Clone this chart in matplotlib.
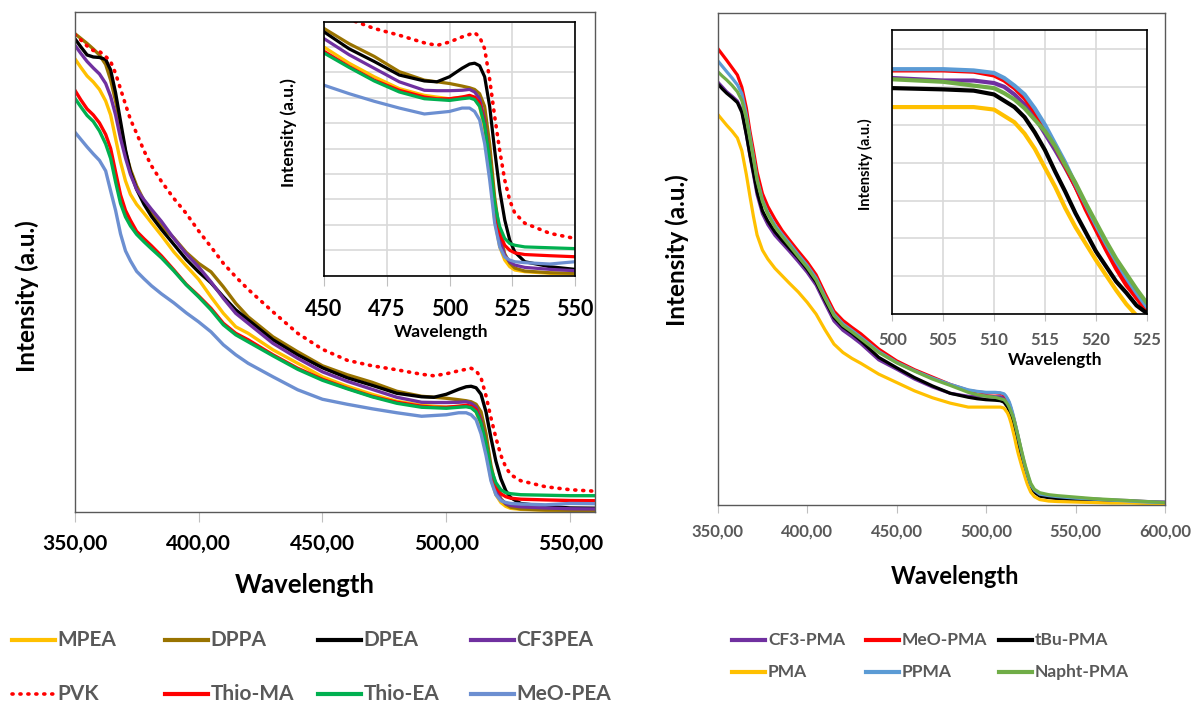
import matplotlib
matplotlib.use("Agg")
import numpy as np
import matplotlib.pyplot as plt
from matplotlib.lines import Line2D
from matplotlib.ticker import FuncFormatter

plt.rcParams['font.family'] = ['Lato', 'DejaVu Sans']
plt.rcParams['font.weight'] = 'bold'

# ---- left panel: PEA-type spacers (intensity, a.u.) ----
wl_left = [350, 352.5, 355, 357.5, 360, 362.5, 364.5, 366.5, 368.5, 370.5,
           372.5, 375, 378, 381, 385, 390, 395, 400, 405, 410,
           415, 420, 430, 440, 450, 460, 470, 480, 490, 495,
           500, 505, 508, 510, 512, 514, 516, 518, 520, 522,
           524, 526, 530, 540, 550, 560]

mpea = [0.907, 0.889, 0.872, 0.860, 0.845, 0.822, 0.794, 0.747, 0.700, 0.662,
        0.635, 0.615, 0.597, 0.578, 0.553, 0.520, 0.492, 0.465, 0.430, 0.397,
        0.370, 0.357, 0.324, 0.297, 0.270, 0.251, 0.235, 0.221, 0.213, 0.211,
        0.209, 0.211, 0.212, 0.209, 0.200, 0.172, 0.125, 0.066, 0.034, 0.0185,
        0.0106, 0.0067, 0.0047, 0.0028, 0.002, 0.002]
dppa = [0.957, 0.947, 0.937, 0.926, 0.914, 0.895, 0.864, 0.822, 0.770, 0.720,
        0.685, 0.652, 0.622, 0.597, 0.572, 0.548, 0.519, 0.497, 0.480, 0.450,
        0.417, 0.390, 0.350, 0.320, 0.292, 0.274, 0.259, 0.241, 0.231, 0.229,
        0.227, 0.224, 0.222, 0.220, 0.215, 0.200, 0.156, 0.093, 0.050, 0.026,
        0.015, 0.009, 0.0055, 0.0035, 0.0028, 0.0025]
dpea = [0.947, 0.930, 0.914, 0.910, 0.909, 0.905, 0.884, 0.838, 0.781, 0.724,
        0.680, 0.645, 0.615, 0.591, 0.565, 0.535, 0.505, 0.480, 0.458, 0.430,
        0.404, 0.384, 0.344, 0.314, 0.288, 0.268, 0.253, 0.237, 0.230, 0.229,
        0.235, 0.245, 0.250, 0.251, 0.248, 0.235, 0.200, 0.148, 0.101, 0.066,
        0.042, 0.028, 0.0165, 0.0106, 0.0075, 0.007]
cf3pea = [0.934, 0.917, 0.901, 0.888, 0.876, 0.857, 0.831, 0.794, 0.747, 0.708,
          0.675, 0.645, 0.624, 0.605, 0.581, 0.547, 0.516, 0.490, 0.460, 0.427,
          0.397, 0.377, 0.337, 0.307, 0.280, 0.261, 0.245, 0.229, 0.219, 0.2185,
          0.2185, 0.219, 0.220, 0.217, 0.209, 0.184, 0.137, 0.078, 0.042, 0.024,
          0.0165, 0.0126, 0.0098, 0.0075, 0.0059, 0.0055]
pvk = [0.955, 0.944, 0.932, 0.923, 0.921, 0.911, 0.901, 0.877, 0.846, 0.815,
       0.785, 0.757, 0.722, 0.692, 0.661, 0.627, 0.597, 0.562, 0.530, 0.497,
       0.470, 0.445, 0.400, 0.357, 0.325, 0.303, 0.292, 0.284, 0.275, 0.272,
       0.276, 0.282, 0.285, 0.287, 0.282, 0.268, 0.232, 0.188, 0.148, 0.113,
       0.089, 0.074, 0.062, 0.050, 0.044, 0.041]
thio_ma = [0.844, 0.824, 0.806, 0.794, 0.778, 0.755, 0.727, 0.680, 0.634, 0.603,
           0.583, 0.561, 0.546, 0.532, 0.512, 0.484, 0.455, 0.432, 0.407, 0.377,
           0.357, 0.344, 0.314, 0.287, 0.265, 0.247, 0.231, 0.219, 0.211, 0.209,
           0.209, 0.211, 0.213, 0.211, 0.204, 0.180, 0.137, 0.081, 0.050, 0.036,
           0.030, 0.027, 0.025, 0.0236, 0.0224, 0.022]
thio_ea = [0.828, 0.810, 0.793, 0.781, 0.762, 0.736, 0.707, 0.660, 0.617, 0.590,
           0.572, 0.555, 0.540, 0.526, 0.508, 0.482, 0.454, 0.430, 0.404, 0.374,
           0.354, 0.340, 0.312, 0.285, 0.263, 0.246, 0.230, 0.217, 0.209, 0.208,
           0.207, 0.209, 0.210, 0.208, 0.200, 0.178, 0.137, 0.085, 0.058, 0.044,
           0.038, 0.036, 0.034, 0.033, 0.032, 0.032]
meo_pea = [0.760, 0.745, 0.730, 0.716, 0.703, 0.682, 0.642, 0.603, 0.556, 0.522,
           0.502, 0.481, 0.466, 0.452, 0.436, 0.418, 0.398, 0.380, 0.360, 0.334,
           0.314, 0.297, 0.270, 0.244, 0.225, 0.215, 0.206, 0.198, 0.191, 0.1925,
           0.194, 0.198, 0.198, 0.194, 0.184, 0.156, 0.113, 0.062, 0.034, 0.022,
           0.0185, 0.0165, 0.0154, 0.0138, 0.0165, 0.016]

# ---- right panel: PMA-type spacers ----
wl_right = [350, 352.5, 355, 358, 361, 363.5, 366, 368, 370, 372,
            375, 378, 382, 386, 390, 395, 400, 405, 410, 415,
            420, 425, 430, 440, 450, 460, 470, 480, 490, 495,
            500, 505, 508, 510, 511, 512, 513, 514, 515, 516,
            517, 518, 519, 520, 521, 522, 523, 524, 525, 527,
            530, 535, 540, 550, 560, 570, 580, 590, 600]

cf3_pma = [0.860, 0.850, 0.840, 0.831, 0.821, 0.802, 0.753, 0.710, 0.671, 0.631,
           0.592, 0.570, 0.548, 0.532, 0.516, 0.495, 0.473, 0.447, 0.410, 0.374,
           0.355, 0.342, 0.328, 0.295, 0.276, 0.256, 0.240, 0.227, 0.221, 0.221,
           0.222, 0.220, 0.220, 0.218, 0.215, 0.209, 0.201, 0.191, 0.178, 0.165,
           0.151, 0.136, 0.120, 0.103, 0.087, 0.073, 0.060, 0.048, 0.040, 0.030,
           0.023, 0.019, 0.017, 0.014, 0.012, 0.010, 0.009, 0.007, 0.006]
meo_pma = [0.928, 0.916, 0.904, 0.889, 0.874, 0.849, 0.807, 0.760, 0.720, 0.677,
           0.633, 0.607, 0.581, 0.558, 0.539, 0.516, 0.494, 0.468, 0.430, 0.394,
           0.375, 0.361, 0.348, 0.317, 0.293, 0.275, 0.260, 0.245, 0.233, 0.230,
           0.228, 0.228, 0.227, 0.224, 0.220, 0.214, 0.206, 0.195, 0.182, 0.168,
           0.152, 0.136, 0.118, 0.102, 0.086, 0.071, 0.058, 0.048, 0.037, 0.027,
           0.020, 0.016, 0.014, 0.011, 0.009, 0.008, 0.006, 0.005, 0.004]
tbu_pma = [0.856, 0.846, 0.837, 0.828, 0.818, 0.798, 0.753, 0.712, 0.675, 0.637,
           0.598, 0.577, 0.555, 0.538, 0.522, 0.502, 0.479, 0.453, 0.416, 0.381,
           0.362, 0.349, 0.334, 0.300, 0.279, 0.259, 0.242, 0.227, 0.219, 0.216,
           0.214, 0.213, 0.212, 0.209, 0.204, 0.199, 0.191, 0.179, 0.165, 0.148,
           0.132, 0.115, 0.100, 0.085, 0.073, 0.061, 0.052, 0.042, 0.036, 0.026,
           0.018, 0.015, 0.013, 0.011, 0.009, 0.008, 0.006, 0.005, 0.004]
pma = [0.794, 0.783, 0.772, 0.760, 0.746, 0.720, 0.672, 0.628, 0.586, 0.549,
       0.518, 0.500, 0.481, 0.466, 0.451, 0.433, 0.412, 0.388, 0.356, 0.327,
       0.310, 0.298, 0.288, 0.266, 0.249, 0.232, 0.218, 0.207, 0.199, 0.199,
       0.199, 0.199, 0.199, 0.197, 0.192, 0.187, 0.178, 0.166, 0.151, 0.136,
       0.119, 0.104, 0.091, 0.078, 0.066, 0.054, 0.043, 0.034, 0.026, 0.017,
       0.011, 0.008, 0.007, 0.006, 0.005, 0.004, 0.004, 0.003, 0.003]
ppma = [0.903, 0.892, 0.881, 0.868, 0.854, 0.836, 0.793, 0.750, 0.707, 0.663,
        0.620, 0.594, 0.569, 0.550, 0.532, 0.509, 0.487, 0.461, 0.423, 0.388,
        0.368, 0.355, 0.341, 0.312, 0.290, 0.273, 0.258, 0.245, 0.234, 0.231,
        0.229, 0.229, 0.228, 0.226, 0.222, 0.216, 0.209, 0.198, 0.185, 0.170,
        0.155, 0.138, 0.122, 0.106, 0.091, 0.077, 0.064, 0.052, 0.041, 0.030,
        0.022, 0.019, 0.017, 0.014, 0.012, 0.010, 0.008, 0.006, 0.005]
napht_pma = [0.881, 0.872, 0.864, 0.853, 0.840, 0.822, 0.786, 0.745, 0.704, 0.660,
             0.617, 0.591, 0.565, 0.546, 0.528, 0.505, 0.483, 0.457, 0.420, 0.385,
             0.365, 0.352, 0.338, 0.310, 0.289, 0.272, 0.256, 0.243, 0.229, 0.224,
             0.221, 0.219, 0.216, 0.214, 0.210, 0.205, 0.198, 0.189, 0.180, 0.168,
             0.153, 0.139, 0.123, 0.108, 0.093, 0.079, 0.067, 0.055, 0.044, 0.032,
             0.025, 0.021, 0.019, 0.016, 0.013, 0.011, 0.009, 0.007, 0.005]

left_series = [
    ("MPEA", mpea, dict(color="#FFC000")),
    ("DPPA", dppa, dict(color="#997300")),
    ("DPEA", dpea, dict(color="black")),
    ("CF3PEA", cf3pea, dict(color="#7030A0")),
    ("PVK", pvk, dict(color="#FF0000", linestyle=(0, (0.3, 1.9)), dash_capstyle="round")),
    ("Thio-MA", thio_ma, dict(color="#FF0000")),
    ("Thio-EA", thio_ea, dict(color="#00B050")),
    ("MeO-PEA", meo_pea, dict(color="#6C8FD1")),
]
right_series = [
    ("CF3-PMA", cf3_pma, dict(color="#7030A0")),
    ("MeO-PMA", meo_pma, dict(color="#FF0000")),
    ("tBu-PMA", tbu_pma, dict(color="black")),
    ("PMA", pma, dict(color="#FFC000")),
    ("PPMA", ppma, dict(color="#5B9BD5")),
    ("Napht-PMA", napht_pma, dict(color="#70AD47")),
]

W, H = 1199, 704
fig = plt.figure(figsize=(W / 100, H / 100), dpi=100)


def px_axes(l, t, r, b):
    return fig.add_axes([l / W, 1 - b / H, (r - l) / W, (b - t) / H])


def fig_text(x, y, s, **kw):
    fig.text(x / W, 1 - y / H, s, ha="center", va="center", **kw)


comma_fmt = FuncFormatter(lambda v, p: f"{v:.2f}".replace(".", ","))
int_fmt = FuncFormatter(lambda v, p: f"{v:.0f}")


def main_frame(ax, color):
    for sp in ax.spines.values():
        sp.set_color(color)
        sp.set_linewidth(1.0)
    ax.set_yticks([])


def inset_frame(ax):
    for sp in ax.spines.values():
        sp.set_color("black")
        sp.set_linewidth(1.2)
    ax.grid(True, color="#d9d9d9", lw=1.2)
    ax.set_axisbelow(True)
    ax.tick_params(axis="y", length=0, labelleft=False)


# left main plot
ax1 = px_axes(74.7, 12, 595, 511.7)
for name, vals, st in left_series:
    ax1.plot(wl_left, vals, lw=2.4 if name != "PVK" else 2.6, **st)
ax1.set_xlim(350, 560)
ax1.set_ylim(0, 1)
ax1.set_xticks(np.arange(350, 551, 50))
ax1.xaxis.set_major_formatter(comma_fmt)
main_frame(ax1, "#595959")
ax1.tick_params(axis="x", direction="out", length=7, color="#bfbfbf",
                pad=9, labelsize=15, labelcolor="black")
fig_text(305, 585, "Wavelength", fontsize=18.5)
fig_text(27, 296, "Intensity (a.u.)", fontsize=17.5, rotation=90)

# left inset
ax2 = px_axes(324, 21.7, 575, 275.7)
for name, vals, st in left_series:
    ax2.plot(wl_left, vals, lw=2.3 if name != "PVK" else 2.6, **st)
ax2.set_xlim(450, 550)
ax2.set_ylim(0, 0.30)
ax2.set_xticks(np.arange(450, 551, 25))
ax2.set_yticks(np.arange(0, 0.301, 0.03))
ax2.xaxis.set_major_formatter(int_fmt)
inset_frame(ax2)
ax2.tick_params(axis="x", direction="out", length=7, color="#bfbfbf",
                pad=10, labelsize=15.5, labelcolor="black")
fig_text(441.5, 332, "Wavelength", fontsize=12.5)
fig_text(288.3, 133, "Intensity (a.u.)", fontsize=12.5, rotation=90)

# right main plot
ax3 = px_axes(717.7, 13, 1165, 505)
for name, vals, st in right_series:
    ax3.plot(wl_right, vals, lw=2.3, **st)
ax3.set_xlim(350, 600)
ax3.set_ylim(0, 1)
ax3.set_xticks(np.arange(350, 601, 50))
ax3.xaxis.set_major_formatter(comma_fmt)
main_frame(ax3, "#595959")
ax3.tick_params(axis="x", direction="out", length=6, color="#bfbfbf",
                pad=7, labelsize=12, labelcolor="#595959")
fig_text(955, 577, "Wavelength", fontsize=17)
fig_text(677, 250, "Intensity (a.u.)", fontsize=17.5, rotation=90)

# right inset
ax4 = px_axes(892.3, 30, 1146.7, 314.3)
for name, vals, st in right_series:
    ax4.plot(wl_right, vals, lw=3.0, **st)
ax4.set_xlim(500, 525)
ax4.set_ylim(0.035, 0.26)
ax4.set_xticks(np.arange(500, 526, 5))
ax4.set_yticks(0.035 + 0.03 * np.arange(8))
ax4.xaxis.set_major_formatter(int_fmt)
inset_frame(ax4)
ax4.tick_params(axis="x", direction="out", length=5, color="#bfbfbf",
                pad=8, labelsize=12, labelcolor="#595959")
fig_text(1055, 360, "Wavelength", fontsize=12.5)
fig_text(865, 164, "Intensity (a.u.)", fontsize=10.5, rotation=90)


# legends below each panel
def legend_entry(x0, y, length, label, st, lw, size):
    fig.add_artist(Line2D([x0 / W, (x0 + length) / W], [1 - y / H, 1 - y / H],
                          transform=fig.transFigure, lw=lw, **st))
    fig.text((x0 + length + 3) / W, 1 - y / H, label, ha="left", va="center",
             color="#595959", fontsize=size)


for i, (name, vals, st) in enumerate(left_series):
    col, row = i % 4, i // 4
    legend_entry(11.7 + col * 153, 640 + row * 54, 43, name, st,
                 2.6 if name == "PVK" else 3.0, 15)

for i, (name, vals, st) in enumerate(right_series):
    col, row = i % 3, i // 3
    legend_entry(732 + col * 133.5, 640 + row * 32, 33, name, st, 3.0, 12.5)

fig.savefig("out.png", dpi=100)
